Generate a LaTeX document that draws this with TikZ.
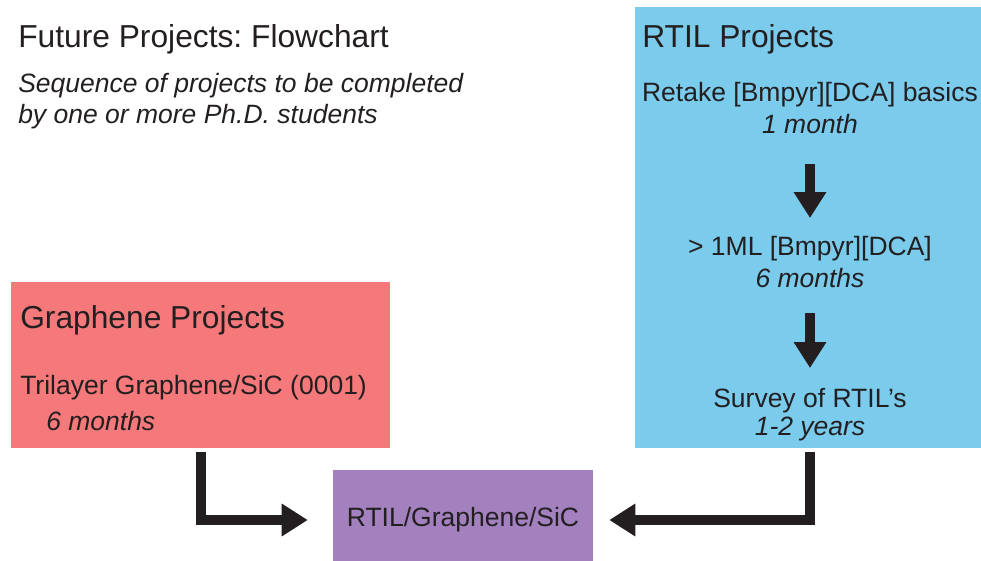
\documentclass[tikz,border=0pt]{standalone}
\usepackage{fontspec}
\setmainfont{Liberation Sans}
\usepackage{tikz}
\usetikzlibrary{arrows.meta, positioning}

\definecolor{rtilblue}{RGB}{122,203,236}
\definecolor{grapred}{RGB}{245,120,123}
\definecolor{combpurple}{RGB}{163,129,190}
\definecolor{inkdark}{RGB}{35,31,32}

\frenchspacing

\begin{document}
\begin{tikzpicture}[
        x=0.75bp, y=-0.75bp,
        % Headings: large upright text
        heading/.style={inner sep=0pt, text=inkdark,
            font=\fontsize{23.9}{28}\selectfont},
        % Body lines: one line of text per node
        body/.style={inner sep=0pt, text=inkdark,
            font=\fontsize{19.95}{24}\selectfont},
        duration/.style={body, font=\fontsize{19.95}{24}\selectfont\itshape},
        % Coloured project panels (no text of their own)
        panel/.style={rectangle, draw=none, inner sep=0pt},
        % Thick block arrows
        blockarrow/.style={draw=inkdark, line width=7.5bp, line join=miter,
            -{Triangle[length=19.5bp, width=23.25bp]}},
        ]

        \useasboundingbox (0,0) rectangle (981,561);

        % === Page title ===
        \node[heading, anchor=base west] (title) at (18,47) {Future Projects: Flowchart};
        \node[duration, anchor=base west] (sub1) at (18,92) {Sequence of projects to be completed};
        \node[duration, anchor=base west] (sub2) at (18,123) {by one or more Ph.D. students};

        % === Panels ===
        \node[panel, fill=rtilblue, minimum width=262.5bp, minimum height=330.75bp]
            (rtil) at (810,227.5) {};
        \node[panel, fill=grapred, minimum width=284.25bp, minimum height=124.5bp]
            (gp) at (200.5,365) {};
        \node[panel, fill=combpurple, minimum width=195bp, minimum height=75bp,
            body] (comb) at (463,520) {RTIL/Graphene/SiC};

        % === RTIL sequence ===
        \node[heading, anchor=base west] (rtiltitle) at (642,47) {RTIL Projects};
        \node[body, anchor=base] (s1) at (810,101) {Retake [Bmpyr][DCA] basics};
        \node[duration, anchor=base] (t1) at (810,133) {1 month};
        \node[body, anchor=base] (s2) at (810,255) {> 1ML [Bmpyr][DCA]};
        \node[duration, anchor=base] (t2) at (810,287) {6 months};
        \node[body, anchor=base] (s3) at (810,407) {Survey of RTIL’s};
        \node[duration, anchor=base] (t3) at (810,435) {1-2 years};

        % === Graphene sequence ===
        \node[heading, anchor=base west] (gptitle) at (20,328) {Graphene Projects};
        \node[body, anchor=base west] (g1) at (20,394) {Trilayer Graphene/SiC (0001)};
        \node[duration, anchor=base west] (h1) at (46,430) {6 months};

        % === Arrows ===
        \draw[blockarrow, shorten <=23.25bp, shorten >=27.75bp] (t1.base) -- (s2.base);
        \draw[blockarrow, shorten <=19.5bp, shorten >=29.25bp] (t2.base) -- (s3.base);
        \draw[blockarrow, shorten <=3bp, shorten >=18.75bp] (gp.south) |- (comb.west);
        \draw[blockarrow, shorten <=3bp, shorten >=12bp] (rtil.south) |- (comb.east);

    \end{tikzpicture}
\end{document}
